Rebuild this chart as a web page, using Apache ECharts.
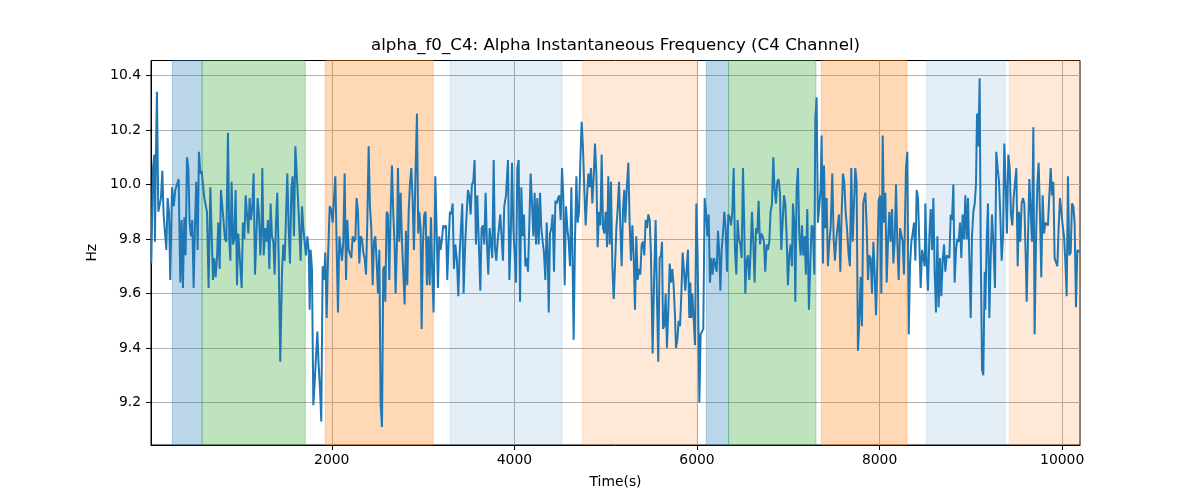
<!DOCTYPE html>
<html>
<head>
<meta charset="utf-8">
<script src="https://cdn.jsdelivr.net/npm/echarts@6/dist/echarts.min.js"></script>
<style>html,body{margin:0;padding:0;background:#fff}#c{width:1200px;height:500px}</style>
</head>
<body>
<div id="c"></div>
<script>
// ---- data ----
const titleText = 'alpha_f0_C4: Alpha Instantaneous Frequency (C4 Channel)';
const xTicks = [2000, 4000, 6000, 8000, 10000];
const yTicks = [9.2, 9.4, 9.6, 9.8, 10.0, 10.2, 10.4];
const xRange = [20, 10195];
const yRange = [9.044, 10.455];

// shaded stage spans
const spanStarts = [253, 579, 1929, 3298, 4744, 6102, 6346, 7362, 8512, 9421];
const spanEnds   = [579, 1710, 3112, 4522, 5999, 6346, 7303, 8300, 9377, 10195];
const spanKinds  = ['blue', 'green', 'orange', 'lightblue', 'lightorange', 'blue', 'green', 'orange', 'lightblue', 'lightorange'];

// alpha instantaneous frequency samples [time (s), Hz]
const samples = [
[23,9.71],[42,10.06],[56,10.11],[63,9.79],[74,10.10],[85,10.34],[100,9.90],[115,9.90],[129,9.95],[144,10.05],
[158,9.89],[173,9.89],[188,9.76],[202,9.95],[217,9.90],[231,9.65],[250,9.99],[268,9.92],[286,9.98],[304,9.98],
[323,10.02],[341,9.64],[356,9.87],[370,9.62],[385,9.88],[399,9.74],[414,10.10],[429,10.06],[443,9.86],[458,9.81],
[472,9.87],[487,9.62],[502,9.86],[516,10.01],[531,9.76],[545,10.12],[560,10.04],[575,10.05],[589,10.05],[604,9.95],
[618,9.95],[633,9.90],[651,9.62],[670,9.99],[684,9.99],[699,9.65],[713,9.73],[728,9.66],[743,9.73],[757,9.86],
[772,9.69],[786,9.98],[801,9.92],[816,9.86],[830,9.80],[845,9.79],[863,10.19],[878,9.79],[889,9.72],[903,10.01],
[918,9.78],[932,9.80],[947,9.98],[962,9.63],[976,9.82],[991,9.82],[1013,9.62],[1027,9.86],[1042,9.80],[1057,9.96],
[1071,9.96],[1086,9.82],[1100,9.95],[1115,9.87],[1130,9.92],[1144,10.04],[1159,9.67],[1173,9.80],[1188,9.95],[1203,9.89],
[1217,9.74],[1232,9.86],[1239,10.06],[1254,9.74],
[1272,9.84],[1287,9.79],[1301,9.87],[1316,9.69],[1330,9.93],[1345,9.81],[1360,9.79],[1374,9.67],[1389,9.86],[1403,9.97],
[1418,9.74],[1436,9.35],[1455,9.68],[1469,9.78],[1484,9.72],[1498,9.72],[1513,10.04],[1528,9.84],[1542,9.71],[1557,9.98],
[1571,10.03],[1586,9.81],[1601,10.14],[1619,10.02],[1637,9.90],[1659,9.72],[1674,9.92],[1688,9.84],[1703,9.84],[1717,9.74],
[1732,9.81],[1747,9.76],[1758,9.54],[1769,9.76],[1783,9.69],[1798,9.19],[1812,9.27],[1827,9.27],[1842,9.46],[1856,9.34],
[1871,9.25],[1885,9.13],[1900,9.70],[1915,9.65],[1929,9.75],[1944,9.51],[1958,9.72],[1977,9.92],[1991,9.91],[2010,9.86],
[2024,9.86],[2039,10.03],[2053,9.78],[2068,9.53],[2083,9.81],[2097,9.81],[2112,9.72],[2126,9.79],[2141,10.04],[2156,9.65],
[2170,9.87],[2185,9.76],[2199,9.76],[2214,9.73],[2229,9.81],[2243,9.79],[2258,9.80],[2272,9.95],[2287,9.90],[2302,9.71],
[2316,9.81],[2331,9.80],[2345,9.75],[2360,9.73],[2375,9.67],[2389,9.86],[2404,10.14],[2418,9.92],[2433,9.84],[2448,9.63],
[2462,9.79],[2477,9.81],[2491,9.72],[2506,9.60],[2521,9.76],[2535,9.19],[2550,9.11],[2564,9.69],[2579,9.70],
[2586,9.57],[2601,9.90],[2615,9.89],[2630,9.65],[2644,9.89],[2659,10.07],[2674,9.89],[2688,9.78],[2699,9.60],[2714,9.79],
[2725,10.06],[2739,9.79],[2754,9.97],[2769,9.79],[2783,9.79],[2798,9.56],[2812,9.83],[2827,9.63],[2842,9.90],[2856,10.00],
[2871,10.06],[2885,9.95],[2900,9.76],[2915,10.01],[2933,10.26],[2947,9.82],[2958,9.90],[2973,9.84],[2984,9.47],[2999,9.79],
[3013,9.89],[3028,9.90],[3042,9.63],[3057,9.81],[3072,9.63],[3086,9.88],[3101,9.67],[3115,9.53],[3134,10.03],[3148,9.84],
[3163,9.62],[3177,9.81],[3192,9.76],[3207,9.80],[3221,9.85],[3236,9.84],[3251,9.85],[3265,9.65],[3280,9.79],[3294,9.90],
[3309,9.89],[3324,9.93],[3338,9.69],[3353,9.78],[3371,9.72],[3386,9.59],[3400,9.74],[3415,9.84],[3429,9.93],[3444,9.60],
[3462,9.79],[3477,9.89],[3491,9.98],[3506,9.96],[3521,9.89],[3535,10.00],[3550,10.01],[3564,10.09],[3579,9.78],[3594,9.96],
[3608,9.96],[3627,9.61],[3641,9.84],[3656,9.85],[3670,9.78],[3685,9.97],[3700,9.78],[3714,9.67],[3729,9.84],[3743,9.84],
[3758,9.73],[3773,10.09],[3787,9.77],[3802,9.72],[3816,9.79],[3831,9.84],[3846,9.89],[3860,9.89],[3875,9.72],[3889,9.92],
[3908,9.96],[3930,10.09],[3945,9.65],[3959,9.79],[3974,10.08],[3989,9.84],[4003,9.84],[4018,9.64],[4032,10.06],[4047,10.09],
[4062,9.57],[4076,9.99],[4091,9.81],[4105,9.89],[4120,9.70],[4135,9.73],[4149,9.68],[4164,9.86],[4178,10.04],[4193,9.93],
[4208,9.81],[4222,9.97],[4237,9.78],[4251,9.95],[4266,9.78],[4281,9.97],[4295,9.84],[4310,9.79],[4324,9.75],[4339,9.65],
[4354,9.86],[4365,9.75],[4376,9.53],[4390,9.82],[4405,9.84],[4419,9.89],[4434,9.68],[4449,9.94],[4463,9.93],[4478,9.95],
[4492,9.96],[4507,9.87],[4522,10.06],[4536,9.95],[4551,9.63],[4565,9.92],[4580,9.84],[4595,9.79],[4609,9.70],[4624,9.99],
[4638,9.70],[4649,9.43],[4664,9.80],[4679,10.03],[4693,9.86],[4708,9.90],[4722,10.08],[4737,10.23],[4752,10.13],[4766,9.98],
[4781,9.85],[4796,9.96],[4810,10.04],[4825,9.99],[4839,10.06],[4854,9.93],[4869,10.03],[4883,10.15],[4898,10.04],[4912,9.77],
[4927,9.90],[4942,9.85],[4956,10.11],[4971,9.84],[4985,9.82],[5000,9.90],[5015,9.77],[5029,10.03],[5044,9.78],[5058,10.01],
[5073,9.70],[5088,9.58],[5102,9.70],[5117,9.84],[5131,9.91],[5146,10.01],[5161,9.84],[5175,9.70],[5190,9.91],[5204,9.98],
[5215,9.86],[5230,9.98],[5248,10.08],[5262,9.86],[5277,9.72],[5292,9.85],[5306,9.74],[5321,9.54],[5335,9.81],[5350,9.65],
[5365,9.69],[5379,9.67],[5394,9.78],[5409,9.79],[5423,9.74],[5438,9.87],[5452,9.84],[5467,9.89],[5482,9.87],[5496,9.74],
[5514,9.38],[5529,9.63],[5547,9.87],[5562,9.58],[5576,9.35],[5591,9.73],[5606,9.74],[5617,9.79],[5628,9.47],[5642,9.48],
[5657,9.60],[5671,9.40],[5686,9.54],[5701,9.71],[5715,9.64],[5730,9.69],[5744,9.63],[5759,9.52],[5770,9.40],[5785,9.43],
[5799,9.50],[5814,9.48],[5828,9.59],[5843,9.75],[5858,9.68],[5872,9.61],[5887,9.69],[5901,9.76],[5916,9.51],[5927,9.64],
[5938,9.51],[5949,9.60],[5963,9.51],[5978,9.41],[5993,9.93],[6007,9.74],[6026,9.20],[6040,9.45],[6055,9.45],[6069,9.47],
[6084,9.95],[6099,9.90],[6113,9.81],[6128,9.89],[6142,9.64],[6157,9.73],[6172,9.67],[6186,9.73],[6201,9.73],[6215,9.68],
[6230,9.83],[6245,9.74],[6256,9.61],[6270,9.76],[6285,9.82],[6299,9.90],[6314,9.84],[6329,9.68],[6343,9.89],[6358,9.88],
[6372,9.85],[6387,9.90],[6402,10.06],[6416,9.76],[6431,9.67],[6445,9.87],[6460,9.80],[6475,9.78],[6489,9.73],[6504,10.06],
[6518,9.84],[6529,9.60],[6544,9.72],[6558,9.74],[6573,9.65],[6587,9.75],[6602,9.90],[6617,9.79],[6631,9.64],[6646,9.84],
[6660,9.82],[6675,9.94],[6690,9.78],[6704,9.82],[6719,9.81],[6733,9.79],[6748,9.68],[6763,9.78],[6777,9.76],[6792,9.79],
[6806,9.90],[6821,9.93],[6836,10.10],[6850,9.98],[6865,9.93],[6879,10.01],[6894,10.02],[6909,9.97],[6923,9.76],[6938,9.76],
[6953,9.96],[6967,9.93],[6982,9.81],[6996,9.63],[7011,9.74],[7026,9.78],[7040,9.70],[7051,9.93],[7066,9.86],[7077,9.57],
[7091,9.98],[7106,10.06],[7120,9.82],[7135,9.74],[7150,9.85],[7164,9.74],[7179,9.81],[7193,9.67],[7208,9.91],[7226,9.54],
[7241,9.71],[7256,9.85],[7270,9.84],[7285,9.67],[7296,10.24],[7310,10.32],[7325,9.86],[7340,9.86],[7354,9.98],[7365,10.18],
[7380,9.71],[7391,10.07],[7405,9.84],[7420,9.95],[7434,9.70],[7449,9.79],[7464,9.84],[7482,10.04],[7497,9.80],[7511,9.72],
[7526,9.80],[7540,9.80],[7555,9.89],[7570,9.68],[7584,9.89],[7599,10.04],[7613,10.01],[7628,9.90],[7643,9.84],[7661,9.74],
[7675,9.70],[7690,10.06],[7705,9.79],[7719,9.79],[7734,10.06],[7748,10.01],[7763,9.39],[7778,9.50],[7792,9.66],[7807,9.48],
[7821,9.93],[7836,9.93],
[7844,9.97],[7859,9.84],[7873,9.65],[7888,9.74],[7902,9.73],[7917,9.60],[7932,9.79],[7946,9.67],[7961,9.52],[7975,9.71],
[7990,9.94],[8005,9.96],[8019,9.60],[8034,10.18],[8048,9.86],[8063,9.97],[8078,9.64],[8092,9.79],[8107,9.90],[8121,9.79],
[8136,9.91],[8151,9.71],[8165,9.79],[8180,10.00],[8194,9.79],[8209,9.65],[8224,9.84],[8238,9.84],[8253,9.79],[8267,9.67],
[8282,9.67],[8289,10.06],[8304,10.12],[8319,9.45],[8333,9.70],[8348,9.79],[8362,9.82],[8377,9.86],[8392,9.72],[8406,9.98],
[8421,9.95],[8435,9.79],[8450,9.62],[8465,9.76],[8479,9.76],[8494,9.70],[8501,9.93],[8516,9.72],[8530,9.61],[8545,9.81],
[8560,9.91],[8574,9.76],[8589,9.95],[8603,9.68],[8618,9.53],[8633,9.81],[8647,9.55],[8662,9.73],[8676,9.59],[8691,9.72],
[8706,9.78],[8720,9.68],[8735,9.74],[8749,9.74],[8764,9.73],[8779,9.89],[8793,9.87],[8808,10.00],[8822,9.64],[8837,9.76],
[8852,9.80],[8866,9.79],[8881,9.86],[8895,9.73],[8910,9.89],[8925,9.80],[8939,9.96],[8954,9.80],[8968,9.95],[8983,9.95],
[8998,9.51],[9012,9.81],[9027,9.90],[9042,9.93],[9056,10.00],[9067,10.26],[9082,10.14],[9096,10.39],[9107,9.79],[9122,9.32],
[9136,9.30],[9151,9.68],
[9158,9.54],[9173,9.79],[9187,9.93],[9202,9.51],[9216,9.72],[9231,9.89],[9246,9.79],[9264,9.62],[9278,10.12],[9293,10.06],
[9308,10.01],[9322,9.89],[9337,9.72],[9352,9.81],[9366,10.15],[9381,10.00],[9395,9.82],[9410,10.11],[9425,10.06],[9439,9.89],
[9454,9.85],[9468,9.95],[9483,9.95],[9498,10.06],[9512,9.70],[9527,9.90],[9541,9.79],[9556,9.93],[9571,9.95],[9585,9.93],
[9600,9.74],[9611,9.57],[9625,9.79],[9640,10.02],[9655,10.02],[9669,9.79],[9684,10.21],[9698,9.45],[9713,9.79],[9728,10.00],
[9742,10.08],[9757,9.89],[9771,9.66],[9786,9.96],[9801,9.82],[9815,9.86],[9830,9.86],[9844,9.85],[9859,9.96],[9874,10.06],
[9888,9.96],[9903,10.01],[9917,9.73],[9932,9.73],[9947,9.70],[9961,9.84],[9976,9.95],[9990,9.95],[10005,9.85],[10020,9.81],
[10034,9.72],[10049,9.59],[10063,10.03],[10078,9.74],[10093,9.75],[10107,9.93],[10122,9.92],[10136,9.86],[10151,9.55],[10166,9.76],
[10180,9.76],[10195,9.75]
];

// ---- styles ----
const kindColors = {
  blue: 'rgba(31,119,180,0.3)',
  green: 'rgba(44,160,44,0.3)',
  orange: 'rgba(255,127,14,0.3)',
  lightblue: 'rgba(31,119,180,0.12)',
  lightorange: 'rgba(255,127,14,0.17)'
};
const FONT = 'DejaVu Sans';

const areas = spanStarts.map((s, i) => {
  const c = kindColors[spanKinds[i]];
  return [{ xAxis: s, itemStyle: { color: c, borderColor: c, borderWidth: 1 } }, { xAxis: spanEnds[i] }];
});

const chart = echarts.init(document.getElementById('c'), null, { renderer: 'canvas' });
chart.setOption({
  animation: false,
  backgroundColor: '#ffffff',
  title: {
    text: titleText,
    left: 615.5,
    top: 37.5,
    padding: 0,
    textAlign: 'center',
    textStyle: { fontFamily: FONT, fontSize: 16.67, fontWeight: 'normal', color: '#000' }
  },
  grid: {
    left: 151, right: 120, top: 60.5, bottom: 55,
    show: true, borderColor: '#000', borderWidth: 1, backgroundColor: 'transparent'
  },
  xAxis: {
    type: 'value',
    min: xRange[0], max: xRange[1],
    name: 'Time(s)', nameLocation: 'middle', nameGap: 30,
    nameTextStyle: { fontFamily: FONT, fontSize: 13.9, color: '#000' },
    axisLine: { show: true, onZero: false, lineStyle: { color: '#000', width: 1 } },
    axisTick: { show: true, length: 5, lineStyle: { color: '#000', width: 1 }, customValues: xTicks },
    axisLabel: { margin: 8, fontFamily: FONT, fontSize: 13.9, color: '#000', customValues: xTicks,
      formatter: v => String(Math.round(v)) },
    splitLine: { show: true, lineStyle: { color: '#b0b0b0', width: 1 } }
  },
  yAxis: {
    type: 'value',
    min: yRange[0], max: yRange[1],
    name: 'Hz', nameLocation: 'middle', nameGap: 44,
    nameTextStyle: { fontFamily: FONT, fontSize: 13.9, color: '#000' },
    axisLine: { show: true, onZero: false, lineStyle: { color: '#000', width: 1 } },
    axisTick: { show: true, length: 5, lineStyle: { color: '#000', width: 1 }, customValues: yTicks },
    axisLabel: { margin: 10, fontFamily: FONT, fontSize: 13.9, color: '#000', customValues: yTicks,
      formatter: v => v.toFixed(1) },
    splitLine: { show: true, lineStyle: { color: '#b0b0b0', width: 1 } }
  },
  series: [
    {
      type: 'line', data: [], silent: true, z: 1,
      markArea: { silent: true, data: areas }
    },
    {
      type: 'line', data: samples, z: 3,
      showSymbol: false, symbol: 'none',
      lineStyle: { color: '#1f77b4', width: 2 },
      itemStyle: { color: '#1f77b4' },
      clip: true
    }
  ]
});
</script>
</body>
</html>
